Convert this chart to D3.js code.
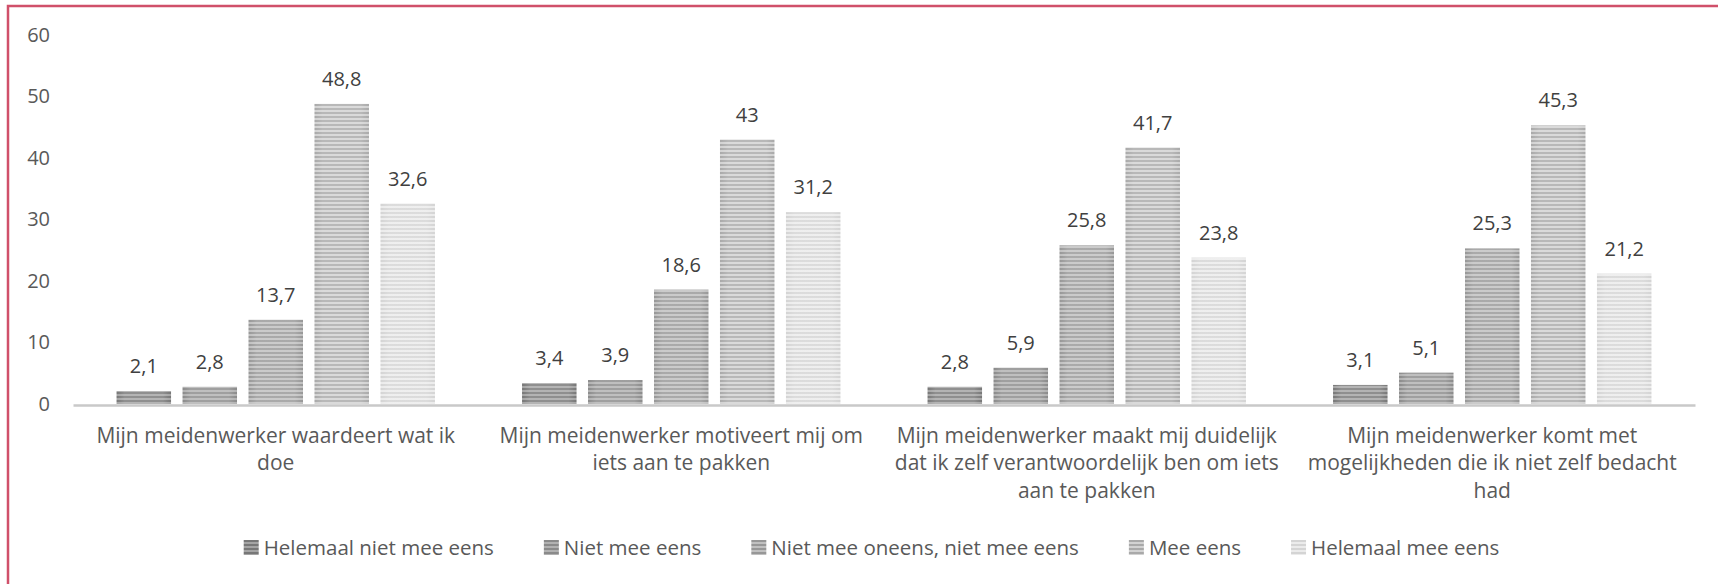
<!DOCTYPE html>
<html><head><meta charset="utf-8">
<script src="https://cdn.jsdelivr.net/npm/d3@7"></script>
<style>html,body{margin:0;padding:0;background:#fff}svg{display:block}</style>
</head><body>
<svg id="c" width="1718" height="584"></svg>
<script>
const categories = [
  ["Mijn meidenwerker waardeert wat ik", "doe"],
  ["Mijn meidenwerker motiveert mij om", "iets aan te pakken"],
  ["Mijn meidenwerker maakt mij duidelijk", "dat ik zelf verantwoordelijk ben om iets", "aan te pakken"],
  ["Mijn meidenwerker komt met", "mogelijkheden die ik niet zelf bedacht", "had"]
];
const seriesNames = ["Helemaal niet mee eens", "Niet mee eens", "Niet mee oneens, niet mee eens", "Mee eens", "Helemaal mee eens"];
const helemaalNiet = [2.1, 3.4, 2.8, 3.1];
const nietMee = [2.8, 3.9, 5.9, 5.1];
const neutraal = [13.7, 18.6, 25.8, 25.3];
const meeEens = [48.8, 43, 41.7, 45.3];
const helemaalMee = [32.6, 31.2, 23.8, 21.2];
const yTicks = [0, 10, 20, 30, 40, 50, 60];

const seriesValues = [helemaalNiet, nietMee, neutraal, meeEens, helemaalMee];
const stripeDark = ["#777777", "#8a8a8a", "#979797", "#a9a9a9", "#d4d4d4"];
const stripeLight = ["#a4a4a4", "#b1b1b1", "#c0c0c0", "#d2d2d2", "#ebebeb"];

const svg = d3.select("#c");
const font = "'Open Sans', sans-serif";
const margin = {left: 73, right: 23, top: 35, bottom: 181};
const W = 1718, H = 584;
const x0 = d3.scaleBand().domain(d3.range(categories.length)).range([margin.left, W - margin.right]);
const x1 = d3.scaleBand().domain(d3.range(seriesNames.length)).range([0, x0.bandwidth()]).paddingInner(0.174).paddingOuter(0.66);
const y = d3.scaleLinear().domain([0, 60]).range([H - margin.bottom + 1, margin.top]);

const defs = svg.append("defs");
seriesNames.forEach((s, i) => {
  const p = defs.append("pattern").attr("id", "pat" + i).attr("patternUnits", "userSpaceOnUse")
    .attr("width", 4).attr("height", 4);
  p.append("rect").attr("width", 4).attr("height", 4).attr("fill", stripeLight[i]);
  p.append("rect").attr("width", 4).attr("height", 2).attr("fill", stripeDark[i]);
});
const g = defs.append("linearGradient").attr("id", "shine");
g.append("stop").attr("offset", "0").attr("stop-color", "#fff").attr("stop-opacity", 0);
g.append("stop").attr("offset", "0.15").attr("stop-color", "#fff").attr("stop-opacity", 0.18);
g.append("stop").attr("offset", "0.85").attr("stop-color", "#fff").attr("stop-opacity", 0.18);
g.append("stop").attr("offset", "1").attr("stop-color", "#fff").attr("stop-opacity", 0);

// border
svg.append("path").attr("d", `M8,${H} L8,6 L${W},6`).attr("fill", "none")
  .attr("stroke", "#d0506a").attr("stroke-width", 2.5);

// y axis
const yAxis = d3.axisLeft(y).tickValues(yTicks).tickSize(0).tickPadding(0).tickFormat(d3.format("d"));
const ya = svg.append("g").attr("transform", `translate(50,0)`).call(yAxis);
ya.select(".domain").remove();
ya.selectAll("text").attr("font-family", font).attr("font-size", 20).attr("fill", "#595959");

// bars
const grp = svg.append("g").selectAll("g").data(categories).join("g")
  .attr("transform", (d, i) => `translate(${x0(i)},0)`);
grp.each(function(c, ci) {
  const gg = d3.select(this);
  seriesNames.forEach((s, si) => {
    const v = seriesValues[si][ci];
    gg.append("rect").attr("x", x1(si)).attr("width", x1.bandwidth())
      .attr("y", y(v)).attr("height", y(0) - y(v)).attr("fill", `url(#pat${si})`);
    gg.append("rect").attr("x", x1(si)).attr("width", x1.bandwidth())
      .attr("y", y(v)).attr("height", y(0) - y(v)).attr("fill", "url(#shine)");
    gg.append("text").attr("x", x1(si) + x1.bandwidth() / 2).attr("y", y(v) - 18)
      .attr("text-anchor", "middle").attr("font-family", font).attr("font-size", 20)
      .attr("fill", "#404040").text(String(v).replace(".", ","));
  });
});

// x axis
const xAxis = d3.axisBottom(x0).tickSize(0).tickFormat("");
const xa = svg.append("g").attr("transform", `translate(0,${y(0) + 1})`).call(xAxis);
xa.select(".domain").attr("stroke", "#c9c9c9").attr("stroke-width", 2.5);
xa.selectAll(".tick").each(function(d) {
  const t = d3.select(this).append("text").attr("x", 0)
    .attr("text-anchor", "middle").attr("font-family", font).attr("font-size", 21).attr("fill", "#595959");
  categories[d].forEach((line, li) => {
    t.append("tspan").attr("x", 0).attr("y", 38 + li * 27.4).text(line);
  });
});

// legend
const leg = svg.append("g");
const items = leg.selectAll("g").data(seriesNames).join("g");
items.append("rect").attr("width", 15).attr("height", 15).attr("y", -8).attr("fill", (d, i) => `url(#pat${i})`);
items.append("text").attr("x", 20).attr("y", 7).attr("font-family", font).attr("font-size", 20.5)
  .attr("fill", "#595959").text(d => d);
const gap = 50;
let xpos = 0;
const pos = [];
items.each(function() {
  const w = this.getBBox().width;
  pos.push(xpos);
  xpos += w + gap;
});
const total = xpos - gap;
const start = 871.5 - total / 2;
items.attr("transform", (d, i) => `translate(${start + pos[i]},548)`);
</script>
</body></html>
